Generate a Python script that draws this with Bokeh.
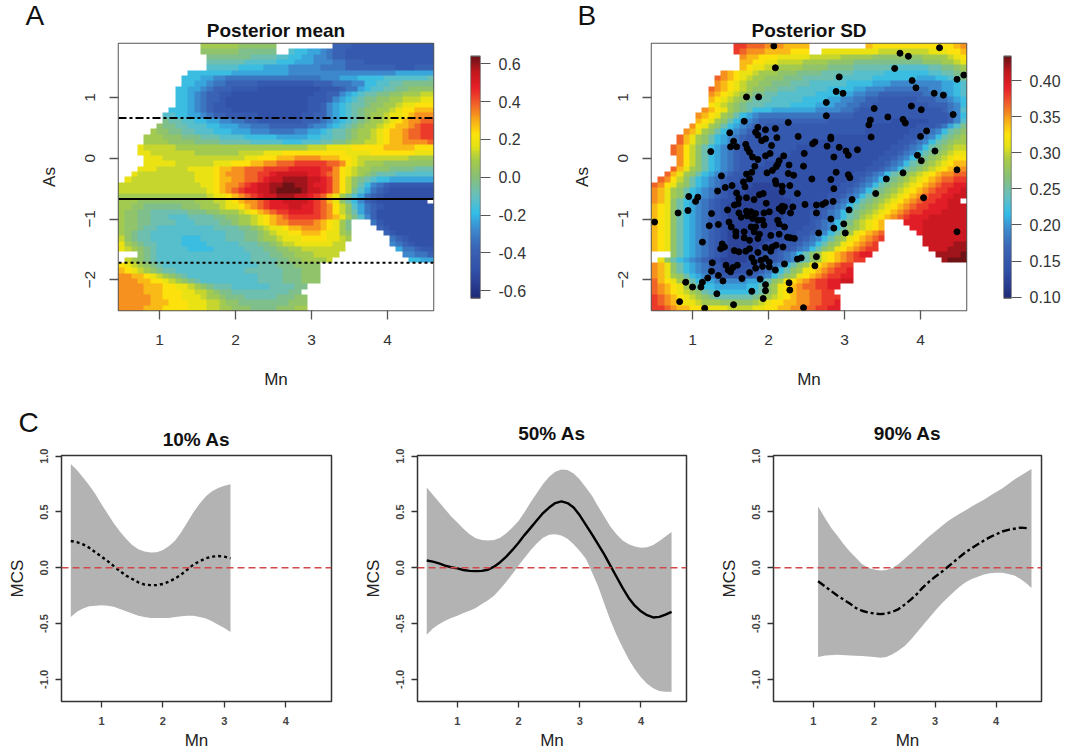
import numpy as np
from bokeh.embed import file_html
from bokeh.resources import INLINE
from bokeh.plotting import figure
from bokeh.layouts import row, column
from bokeh.models import LinearColorMapper, FixedTicker, NumeralTickFormatter, Span, Title

# Panel A: posterior mean, one letter per grid cell (a = lowest level, z = highest, . = no value)
mean_rows = [
".............oooooonnnnnn.........fffeeeeeeeeeeeee",
".............nnnnnnmmmmmm..kjjiihgffeeeeeeeeeeeeee",
"..............mmmmmmmllllkkjjiihhgffeeeeeeeeeeeeee",
"..............llllllkkkkkjjjiiihhhggfffeeeeeeeeeee",
"..............kkkkkjjjjiiiihhhhhggggffffffffeeefff",
"...........jjjjjjjiiiiiiiiihhhhhhhhhhhhhhhhhiiiiii",
"..........jjjiihhggggggggggggggghhhiiijjjjkkkkkkkl",
"..........jjiihggfffffeeeeeeeeefffggghhjjkkllmmmmm",
".........jjiihgfffeeeeddddddddddeeefggijkkllmmnnnn",
".........jjihgffeedddddddddddddeeffhijkllmmnnooopp",
".........jjihgffedddddddddddddeeefhijklmmnnoopppqq",
".........jjihgfeedddddddddddddeefhijkllmnnoopqqrrr",
"........jjjihgfeeeddddddddddddeefhijklmnnoopqrrsss",
".......kkjjiihgffeeeeedddddddeeffhijklmnoopqqrsttt",
".......mllkkjjiihhggffeeeeeeefffghijklmnoopqrsttuu",
"......nmmllkkkjjiiihhgggffffffghhijklmnoopqrsstuvv",
".....onnmmllkkkjjjiiihhhgggghhiijkllmnoopqrsstuuvv",
"....ooonnnmmmlllkkkkjjjjjiiiiijjkkllmnoopqrsstuuvv",
"....oooonnnnmmmmlllllkkkkkjjjkkkllmmnooppqrssttttu",
"...qpppppooooooooooooooooooooopppqqqqrrrrrsssssrrr",
"...qqpppppppoooooooppppqqqrrrrrrrrrrqqqqrrrrrrrqqq",
"....qqqpppppppppppppqqrrrsssttttsssrrqppppppppoooo",
"....qqqqqppppppqqqrrrssttuuuvvvvvuutrqpooonnnnnnnn",
"...qqqpppppqqqqrssttuuuvvvvwwwwwvvtrqpoonnnmmmmlll",
"..qpppppppppqqqrstttuuvvwxxxxxwwvutrqponmlllkkkkkk",
".qppppppppppqqqrssttuuvwxxyyyyxxwvtrpnmlkjjiiiiiii",
"pppppppppppppqqrsttuvwxxyyzzyyxwwvtrpnljhgfeeeeeee",
"ppppppppppppppqrstuvwwxxyzzzzyxxwvtrpmkigfeddddddd",
"oooooooooooooopqqrstuvwxxyyyxxwvusqomkigfedddddddd",
"ooonnnnnnnnnoooppqrsttuvwwxxxxwvusqnljhfedddddddd.",
"oonnmmmmmmnnnooopqqrstuvwwwxxwwvutrpnkigfedddddddd",
"onnmmllllllmmmnnooopqrstuvvwwwwvutrpnligfddddddddd",
"onnmmlllkkkllllmmnnoopqrstuvvvvvutsqomkhfddddddddd",
"onnmmllllkkkllllmmnoopqrsttuuuutsrqom...gedddddddd",
"onnmllkkkkkkkkkllllmmnopqqrsstttsrqom....feddddddd",
"onmllkkkkkkkkkkkklllmmnopqqrrsssrqqon.....fedddddd",
"pnmllkkkkkjjjkkkklllmmnoopqqqrrrrqqpo......gfedddd",
"qonmllkkkkjjjjkkkkklllmmnoppqqqqqqpp.......hgfeddd",
"qponmlkkkkkjjjjkkkkklllmmnnooppppppp........iggfee",
"...nmlkkkkkkkkkkkkkkklllmmnnooopppp..........hhggf",
".ponmlkkkkkkkkkkkkkkkllllmmnnoooop............jjii",
"rqponmlkkkkkkkkkkkkkkklllmmmnnnn..................",
"srqponmllkkkkkkkkkkkllllllmmmnnn..................",
"ttssrqponmlkkkkkkkkkkkllllmmmnnn..................",
"tttssrrqponmlkkkkkkkkkllllmmmnnn..................",
"ttttsssrrqqponmlllkkkkkkllllmm....................",
"ttttsssrrrqqpponmmlllllllllmm.....................",
"tttttssrrrqqqpoonmmmlllllmmmnn....................",
"tttttsssrrrqqqpponnmmmmmmmmnnn....................",
"ttttsssrrrrqqqppoonnnmmmmnnnoo....................",
]

# Panel B: posterior SD, same coding
sd_rows = [
".............vvuuutttssss.........srrrrrrrrrrrrrst",
".............vutttssssrrr..qqqqqqqqqppppppppqqqrrs",
"..............tssrrrqqqqqpppppooooonnnnnnnnoooopqr",
"..............ssrrqqppppoooonnnnmmmmmmmmmmmnnnoopq",
"..............srqqppoooonnnnmmmmllllllkkkkkkllmmno",
"...........tsrqqpooonnnmmmmlllllkkkkkjjjjjjjkkllmn",
"..........utsrqpoonnnmmmlllllkkkkkkjjjjjjjiiijjklm",
"..........tsrqpoonnmmmlllkkkkkkjjjjiiihhhhhhhhiijk",
".........utsrqponnmmlllkkkkkjjjjiihhhggggggghhiijk",
".........tsrqponmmllkkkkkkjjjjiihhggfffffffgghhijk",
".........srqponmlllkkkkkjjjjiihhggffeeeeeefffgghij",
".........rqponmlllkkkkjjjjiiihhggffeeeeeeeeefffghj",
"........tsrqonmljjjiiiiiiihhhhggfeeeeeeeeeeeeefghk",
".......tsrqonljihgggggggggggffffeeeeeeeeeeeeeeefhj",
".......srqonljihgfffffffffffeeeeeeeeeeddddddeeefhk",
"......trqonljihgffeeeeeeeeeeeeeeeeedddddddeeefgikm",
".....tsqonljihgfeeeeeeeeeeeeeeeeeedddddddeefghjlmn",
"....usqonljihgfeeeeeeeeeeeeeedddddddddddeefghjlmno",
"....usqonljihgfeeeeeeeeeeedddddddddddddeefghjlmnoo",
"...utrpnljihgfeeeeeeeeedddddddddddddddeefghjlmnopp",
"...utrpnljihgfeeeeeeeedddddddddddddddeefghjlmnopqq",
"....trpnljihgfeeeeeeddddddddddddddddeefghjlmnopqrr",
"....trpnljihgfeeeedddddddddddddddddeefghjlmnopqrss",
"...usqonljihgfeeddddddddddddddddddeefghjlmnopqrsst",
"..usqonljihgfeedddddddddddddddddeefghjlmnopqrsttuu",
".utrpnljihgfeedddddddddddddddddeefghjlmnopqrstuuvv",
"utrqonljihgfedddcccccdddddddddeefghjlmnopqrstuvvww",
"tsqonljihgfedddccccccddddddddeefghjlmnopqrstuvvwwx",
"tsqonljihgfedccccccccdddddddeefghjlmnopqrstuvvwwxx",
"tsqnljihgfeddcccccccccdddddeefghjlmnopqrstuvvwwxx.",
"srqnljihgfedccccccccccddddeefghjlmnopqrstuvvwwwxxx",
"srqnljihgfedccccccccccdddeefghjlmnopqrstuvvwwwxxxx",
"srqnljihgfedcccccccccddddeefghjlmopqrstuvwwwxxxxxx",
"srqnljihgfedccccccccdddddefghjlmopqrs...wwwxxxxxxx",
"srqnljihgfedccccccccddddeefghjlnopqrs....wwxxxxxxx",
"srqnljihgfedcccccccddddeefghjlnoqrstu.....wxxxxxxx",
"srqnljihgfedcccccccdddeefghjlnoqrstuv......xxxxxxx",
"srqnljihgfedccccccdddeefghjlnoqrstuv.......xxxxxyy",
"srqnljihgfedcccccdddeefghjlnoqrstuvv........xxxyyy",
"...nljihgfedccccddeefghjlnoqrstuvww..........yyyyz",
".qnljihgfedccccdddeefghjlnoqrstuvv............yzzz",
"tsqnljihgfedccddeefghjlnoqrstuvv..................",
"tsqnljihgfeddddeefghjlnoqrstuvvw..................",
"tsqonljihgfeeeeefghjlnoqrstuvvww..................",
"usrqonljiihhhhhiijlnoqrstuvvwwxx..................",
"utsrqonljjiiiiijjlnoqrstuuvvww....................",
"utsrqponlkjjjjjjklnoqrsttuuvv.....................",
"vutsrqponmllllllmnopqrsttuuvvv....................",
"vutsrqqpooonnnnnopqrrssttuuvvw....................",
"vvutssrrqqqqppppqqrrssttuuvvww....................",
]

mean_low, mean_high = -0.64, 0.64
sd_low, sd_high = 0.0986, 0.4338
map_x0, map_x1, map_y0, map_y1 = 0.46, 4.605, -2.506, 1.89

# Panel B: observations
obs_mn = [2.07,4.25,3.73,3.84,2.09,3.66,4.57,2.93,4.48,3.89,3.94,2.89,2.98,4.18,4.30,1.71,1.87,2.76,3.88,4.01,3.39,4.43,2.76,3.57,1.68,2.26,3.34,3.32,3.77,3.80,4.08,4.00,1.49,1.86,1.96,2.09,1.83,1.86,2.39,2.11,1.96,1.91,2.82,2.82,3.35,1.54,1.50,1.58,1.70,1.72,2.04,2.61,2.58,2.77,2.93,3.17,3.02,3.05,1.24,1.75,1.79,1.86,1.96,2.02,2.20,2.47,2.86,4.19,3.96,4.01,2.14,2.12,2.10,2.05,1.98,2.27,2.46,1.82,1.78,1.71,1.75,1.67,1.38,2.26,2.33,2.89,3.05,3.07,2.57,2.82,2.09,2.10,2.18,2.28,2.86,3.77,3.55,4.48,1.43,1.52,1.33,1.69,1.58,2.38,2.18,1.88,1.93,0.95,1.07,1.04,3.41,4.04,1.71,1.61,1.81,1.97,1.60,2.48,2.63,2.71,2.75,2.85,3.10,2.18,2.21,2.32,2.14,2.18,0.81,0.94,1.25,1.46,1.55,1.61,1.71,1.77,1.83,1.94,2.01,2.29,2.63,3.06,0.50,1.64,1.72,1.79,1.86,1.92,2.12,2.14,2.82,2.99,1.22,1.34,1.48,1.51,1.77,1.83,1.94,2.21,2.86,2.66,3.01,1.57,1.68,1.81,1.88,2.14,2.03,2.25,2.29,2.34,1.57,1.68,1.75,1.86,1.13,1.39,1.42,1.37,2.05,2.10,1.96,2.03,2.19,1.55,1.61,1.70,1.75,1.86,2.38,2.43,2.63,2.61,1.78,1.81,1.90,1.96,2.01,2.21,1.26,1.25,1.44,1.47,1.53,1.59,1.50,1.83,1.92,2.01,2.09,1.75,1.34,1.20,1.40,1.65,1.13,0.91,1.00,1.11,1.89,1.96,2.27,2.28,1.78,1.96,1.32,1.93,0.83,1.54,1.16,2.46,4.48]
obs_as = [1.85,1.82,1.73,1.68,1.49,1.48,1.37,1.34,1.30,1.28,1.16,1.10,1.07,1.07,1.04,1.01,1.01,0.92,0.86,0.80,0.82,0.72,0.70,0.68,0.61,0.59,0.63,0.55,0.64,0.58,0.45,0.36,0.42,0.51,0.47,0.49,0.43,0.38,0.36,0.34,0.32,0.29,0.35,0.32,0.35,0.28,0.19,0.19,0.23,0.16,0.21,0.27,0.24,0.20,0.18,0.14,0.12,0.05,0.11,0.10,0.02,-0.02,0.04,0.08,0.04,0.08,0.02,0.12,0.05,-0.04,-0.04,-0.10,-0.14,-0.20,-0.24,-0.11,-0.13,-0.13,-0.23,-0.26,-0.34,-0.39,-0.29,-0.25,-0.28,-0.23,-0.27,-0.32,-0.34,-0.35,-0.37,-0.42,-0.46,-0.45,-0.50,-0.24,-0.34,-0.19,-0.48,-0.45,-0.54,-0.47,-0.57,-0.58,-0.55,-0.60,-0.58,-0.63,-0.64,-0.71,-0.58,-0.65,-0.65,-0.66,-0.68,-0.74,-0.75,-0.76,-0.77,-0.76,-0.73,-0.71,-0.68,-0.79,-0.80,-0.80,-0.83,-0.87,-0.90,-0.86,-0.91,-0.85,-0.77,-0.90,-0.87,-0.88,-0.91,-0.90,-0.88,-0.90,-0.90,-0.85,-1.05,-0.97,-0.95,-0.99,-1.02,-1.02,-1.02,-1.08,-1.00,-1.08,-1.11,-1.09,-1.05,-1.13,-1.13,-1.13,-1.10,-1.13,-1.15,-1.23,-1.23,-1.21,-1.21,-1.21,-1.25,-1.25,-1.27,-1.30,-1.31,-1.32,-1.28,-1.31,-1.35,-1.32,-1.38,-1.41,-1.46,-1.49,-1.46,-1.43,-1.47,-1.53,-1.46,-1.52,-1.54,-1.53,-1.49,-1.55,-1.66,-1.64,-1.62,-1.77,-1.64,-1.71,-1.68,-1.65,-1.71,-1.74,-1.72,-1.86,-1.76,-1.84,-1.80,-1.76,-1.87,-1.81,-1.78,-1.79,-1.84,-1.88,-1.93,-1.97,-2.02,-1.98,-2.04,-2.04,-2.12,-2.12,-1.99,-2.08,-2.05,-2.17,-2.19,-2.18,-2.23,-2.31,-2.36,-2.41,-2.47,-2.46,-1.21]

# As levels of the horizontal lines in panel A
as_p90, as_p50, as_p10 = 0.665, -0.67, -1.72

# Panel C curves
c1_x = [0.5,0.6,0.7,0.8,0.9,1.0,1.1,1.2,1.3,1.4,1.5,1.6,1.7,1.8,1.9,2.0,2.1,2.2,2.3,2.4,2.5,2.6,2.7,2.8,2.9,3.0,3.1]
c1_up = [0.93,0.875,0.81,0.74,0.66,0.57,0.485,0.40,0.325,0.26,0.205,0.165,0.145,0.137,0.14,0.16,0.195,0.245,0.32,0.41,0.50,0.575,0.64,0.685,0.715,0.735,0.748]
c1_lo = [-0.44,-0.395,-0.365,-0.345,-0.34,-0.335,-0.34,-0.35,-0.37,-0.39,-0.41,-0.43,-0.44,-0.45,-0.45,-0.45,-0.45,-0.44,-0.435,-0.43,-0.43,-0.44,-0.455,-0.48,-0.51,-0.54,-0.575]
c1_m = [0.24,0.23,0.21,0.18,0.14,0.10,0.06,0.015,-0.03,-0.07,-0.10,-0.13,-0.15,-0.155,-0.155,-0.145,-0.125,-0.095,-0.06,-0.015,0.03,0.06,0.085,0.10,0.105,0.10,0.085]

c2_x = [0.5,0.6,0.7,0.8,0.9,1.0,1.1,1.2,1.3,1.4,1.5,1.6,1.7,1.8,1.9,2.0,2.1,2.2,2.3,2.4,2.5,2.6,2.7,2.8,2.9,3.0,3.1,3.2,3.3,3.4,3.5,3.6,3.7,3.8,3.9,4.0,4.1,4.2,4.3,4.4,4.5]
c2_up = [0.72,0.655,0.59,0.525,0.46,0.405,0.35,0.30,0.265,0.25,0.245,0.25,0.27,0.31,0.36,0.42,0.50,0.59,0.67,0.75,0.815,0.86,0.88,0.875,0.845,0.79,0.72,0.645,0.55,0.46,0.37,0.30,0.245,0.21,0.19,0.18,0.185,0.205,0.24,0.28,0.32]
c2_lo = [-0.6,-0.545,-0.505,-0.475,-0.45,-0.43,-0.405,-0.385,-0.36,-0.325,-0.29,-0.25,-0.19,-0.125,-0.055,0.02,0.09,0.16,0.22,0.27,0.295,0.30,0.29,0.26,0.21,0.15,0.08,-0.04,-0.165,-0.32,-0.47,-0.60,-0.715,-0.82,-0.91,-0.98,-1.04,-1.08,-1.105,-1.11,-1.11]
c2_m = [0.065,0.055,0.04,0.02,0.005,-0.005,-0.02,-0.028,-0.03,-0.028,-0.018,0.01,0.05,0.10,0.16,0.225,0.295,0.36,0.425,0.49,0.54,0.58,0.595,0.58,0.54,0.47,0.385,0.30,0.21,0.12,0.02,-0.08,-0.18,-0.27,-0.34,-0.39,-0.425,-0.445,-0.44,-0.42,-0.395]

c3_up_x = [1.08,1.2,1.3,1.4,1.5,1.6,1.7,1.8,1.9,2.0,2.1,2.2,2.3,2.4,2.5,2.6,2.7,2.8,2.9,3.0,3.1,3.2,3.3,3.4,3.5,3.6,3.7,3.8,3.9,4.0,4.1,4.2,4.3,4.4,4.58]
c3_up = [0.55,0.44,0.355,0.285,0.21,0.145,0.09,0.035,0.0,-0.015,-0.025,-0.02,-0.003,0.035,0.08,0.13,0.18,0.23,0.28,0.325,0.37,0.415,0.45,0.485,0.515,0.55,0.58,0.61,0.645,0.68,0.71,0.75,0.79,0.825,0.885]
c3_lo_x = [1.08,1.2,1.4,1.6,1.8,2.0,2.1,2.2,2.3,2.4,2.5,2.6,2.7,2.8,2.9,3.0,3.1,3.2,3.3,3.4,3.5,3.6,3.7,3.8,3.9,4.0,4.1,4.2,4.3,4.4,4.5,4.58]
c3_lo = [-0.8,-0.785,-0.78,-0.785,-0.79,-0.80,-0.805,-0.80,-0.775,-0.74,-0.70,-0.645,-0.58,-0.515,-0.45,-0.385,-0.325,-0.27,-0.22,-0.17,-0.13,-0.10,-0.08,-0.06,-0.05,-0.045,-0.045,-0.055,-0.07,-0.10,-0.14,-0.18]
c3_m_x = [1.08,1.2,1.3,1.4,1.5,1.6,1.7,1.8,1.9,2.0,2.1,2.2,2.3,2.4,2.5,2.6,2.7,2.8,2.9,3.0,3.1,3.2,3.3,3.4,3.5,3.6,3.7,3.8,3.9,4.0,4.1,4.2,4.3,4.4,4.52]
c3_m = [-0.12,-0.17,-0.21,-0.25,-0.285,-0.32,-0.36,-0.385,-0.40,-0.41,-0.415,-0.41,-0.395,-0.37,-0.33,-0.285,-0.235,-0.175,-0.125,-0.08,-0.04,0.005,0.05,0.095,0.14,0.175,0.21,0.245,0.275,0.30,0.325,0.34,0.35,0.36,0.355]

x_ticks = [1, 2, 3, 4]
y_ticks = [-2, -1, 0, 1]
mcs_ticks = [-1.0, -0.5, 0.0, 0.5, 1.0]
mean_bar_ticks = [-0.6, -0.4, -0.2, 0.0, 0.2, 0.4, 0.6]
sd_bar_ticks = [0.10, 0.15, 0.20, 0.25, 0.30, 0.35, 0.40]

# colour ramp
anchor_pos = [0, 0.10, 0.20, 0.28, 0.35, 0.42, 0.50, 0.57, 0.63, 0.68, 0.75, 0.81, 0.87, 0.93, 1.0]
anchor_col = ["#1f2a78", "#2f4da5", "#3a62b4", "#3d88cc", "#33bde8", "#66bfc0", "#88bf78", "#a6cb4a",
              "#e6e214", "#fde30c", "#f79c1c", "#f0592a", "#e8202a", "#c8181f", "#6e1216"]
rgb = np.array([[int(c[i:i + 2], 16) for i in (1, 3, 5)] for c in anchor_col], dtype=float)
t = np.linspace(0, 1, 256)
palette = ["#%02x%02x%02x" % tuple(int(round(np.interp(v, anchor_pos, rgb[:, k]))) for k in range(3)) for v in t]

FONT = "Liberation Sans"
DARK = "#333333"
LINE = "#555555"


def decode(rows, low, high):
    out = np.full((50, 50), np.nan)
    for r, s in enumerate(rows):
        s = s.ljust(50, ".")[:50]
        for c, ch in enumerate(s):
            if ch != ".":
                out[r, c] = low + (ord(ch) - 97) * (high - low) / 25
    return out[::-1]


def style(p, xt, yt, tick_size, label_size, tick_len, xstand, ystand, xlab_stand, ylab_stand, frame):
    p.grid.visible = False
    p.outline_line_color = frame
    p.outline_line_width = 1.5
    p.background_fill_color = "white"
    p.border_fill_color = "white"
    p.xaxis.ticker = FixedTicker(ticks=xt)
    p.yaxis.ticker = FixedTicker(ticks=yt)
    for ax, st, ls in ((p.xaxis, xstand, xlab_stand), (p.yaxis, ystand, ylab_stand)):
        ax.axis_line_color = None
        ax.major_tick_line_color = frame
        ax.major_tick_line_width = 1.3
        ax.major_tick_in = 0
        ax.major_tick_out = tick_len
        ax.minor_tick_line_color = None
        ax.major_label_text_font = FONT
        ax.major_label_text_font_size = f"{tick_size}px"
        ax.major_label_text_color = DARK
        ax.major_label_standoff = st
        ax.axis_label_text_font = FONT
        ax.axis_label_text_font_style = "normal"
        ax.axis_label_text_font_size = f"{label_size}px"
        ax.axis_label_text_color = "#222222"
        ax.axis_label_standoff = ls
    p.yaxis.major_label_orientation = "vertical"
    p.title.text_font = FONT
    p.title.text_font_style = "bold"
    p.title.text_font_size = "19px"
    p.title.align = "center"
    p.title.text_color = "#111111"


def map_fig(title, rows, low, high, left, right, w):
    m = LinearColorMapper(palette=palette, low=low, high=high, nan_color="white")
    p = figure(width=w, height=395, x_range=(map_x0, map_x1), y_range=(map_y0, map_y1), title=title,
               x_axis_label="Mn", y_axis_label="As", output_backend="svg", toolbar_location=None,
               min_border_left=left, min_border_right=right, min_border_top=43, min_border_bottom=85)
    p.image(image=[decode(rows, low, high)], x=map_x0, y=map_y0, dw=map_x1 - map_x0, dh=map_y1 - map_y0,
            color_mapper=m)
    style(p, x_ticks, y_ticks, 15.5, 17, 9, 15, 14, 22, 24, LINE)
    return p


def bar_fig(low, high, ticks, fmt, left, right):
    m = LinearColorMapper(palette=palette, low=low, high=high)
    per_px = (high - low) / 242
    p = figure(width=left + 10 + right, height=395, x_range=(0, 1),
               y_range=(low - 12.3 * per_px, high + 12.7 * per_px), y_axis_location="right",
               x_axis_location=None, output_backend="svg", toolbar_location=None,
               min_border_left=left, min_border_right=right, min_border_top=43, min_border_bottom=85)
    p.image(image=[np.linspace(low, high, 256).reshape(-1, 1)], x=0, y=low, dw=1, dh=high - low, color_mapper=m)
    p.quad(left=[0], right=[1], bottom=[low], top=[high], fill_color=None, line_color=LINE, line_width=1.3)
    p.grid.visible = False
    p.outline_line_color = None
    ax = p.yaxis[0]
    ax.ticker = FixedTicker(ticks=ticks)
    ax.formatter = NumeralTickFormatter(format=fmt)
    ax.axis_line_color = None
    ax.major_tick_line_color = LINE
    ax.major_tick_in = 0
    ax.major_tick_out = 10
    ax.minor_tick_line_color = None
    ax.major_label_text_font = FONT
    ax.major_label_text_font_size = "16px"
    ax.major_label_text_color = DARK
    ax.major_label_standoff = 8
    return p


def letter_title(txt, offset, standoff):
    return Title(text=txt, align="left", offset=offset, standoff=standoff, text_font=FONT,
                 text_font_size="28px", text_font_style="normal", text_color="#111111")


def outer_letter(p, txt, offset, standoff, main_standoff):
    # the panel letter takes the outer title slot, the panel title sits next to the frame
    main = p.title
    main.standoff = main_standoff
    p.title = letter_title(txt, offset, standoff)
    p.add_layout(main, "above")


def band_fig(title, w, left, right, up_x, up_y, lo_x, lo_y, m_x, m_y, dash):
    p = figure(width=w, height=357, x_range=(0.349, 4.744), y_range=(-1.198, 1.006), title=title,
               x_axis_label="Mn", y_axis_label="MCS", output_backend="svg", toolbar_location=None,
               min_border_left=left, min_border_right=right, min_border_top=60, min_border_bottom=50)
    p.patch(list(up_x) + list(lo_x)[::-1], list(up_y) + list(lo_y)[::-1], fill_color="#b3b3b3", line_color=None)
    p.add_layout(Span(location=0, dimension="width", line_color="#d04848", line_width=1.4, line_dash="7 4"))
    p.line(m_x, m_y, line_color="black", line_width=2.4, line_dash=dash)
    style(p, x_ticks, mcs_ticks, 11, 17, 6, 9, 7, 3, 11, "#333333")
    p.title.standoff = 23
    p.xaxis.major_label_text_font_style = "bold"
    p.yaxis.major_label_text_font_style = "bold"
    p.xaxis.major_label_text_color = "#444444"
    p.yaxis.major_label_text_color = "#444444"
    p.yaxis.formatter = NumeralTickFormatter(format="0.0")
    return p


pa = map_fig("Posterior mean", mean_rows, mean_low, mean_high, 118, 19, 452)
for yv, d in ((as_p90, "8 3 3 3"), (as_p50, "solid"), (as_p10, "3 3")):
    pa.add_layout(Span(location=yv, dimension="width", line_color="black", line_width=2, line_dash=d))
outer_letter(pa, "A", -93, -33, 6)
ba = bar_fig(mean_low, mean_high, mean_bar_ticks, "0.0", 18, 60)

pb = map_fig("Posterior SD", sd_rows, sd_low, sd_high, 111, 19, 445)
pb.scatter(obs_mn, obs_as, size=6, fill_color="black", line_color="black")
outer_letter(pb, "B", -74, -33, 6)
bb = bar_fig(sd_low, sd_high, sd_bar_ticks, "0.00", 18, 50)

c1 = band_fig("10% As", 360, 61, 29, c1_x, c1_up, c1_x, c1_lo, c1_x, c1_m, "3 3")
outer_letter(c1, "C", -43, -33, 11)
c2 = band_fig("50% As", 356, 55, 30, c2_x, c2_up, c2_x, c2_lo, c2_x, c2_m, "solid")
c3 = band_fig("90% As", 343, 54, 18, c3_up_x, c3_up, c3_lo_x, c3_lo, c3_m_x, c3_m, "8 3 3 3")

page = column(row(pa, ba, pb, bb, spacing=0), row(c1, c2, c3, spacing=0), spacing=0)
open("out.html", "w").write(file_html(page, INLINE))
